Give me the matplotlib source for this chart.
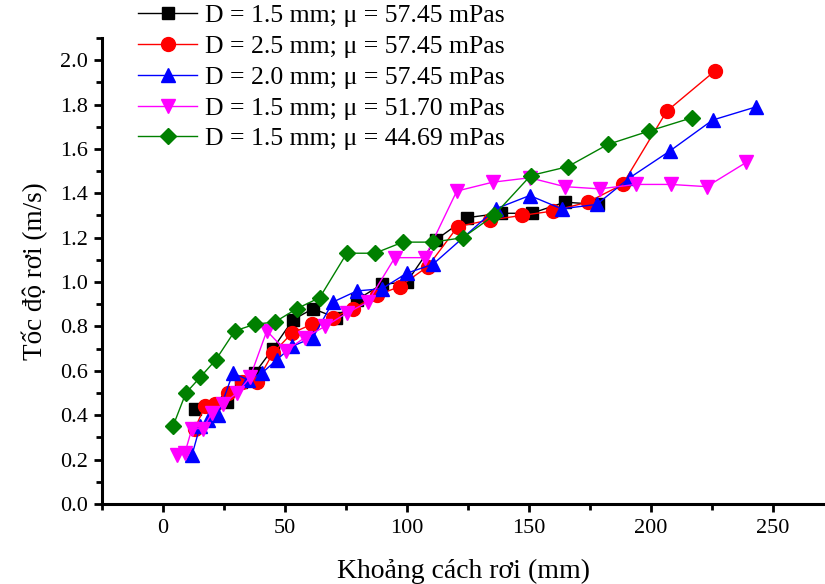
import numpy as np
import matplotlib
matplotlib.use("Agg")
import matplotlib.pyplot as plt
from matplotlib.ticker import MultipleLocator

plt.rcParams['font.family'] = ['Liberation Serif', 'DejaVu Serif']
plt.rcParams['mathtext.fontset'] = 'stix'

# D = 1.5 mm; mu = 57.45 mPas
x_black = [13.1, 26.2, 32.0, 37.7, 45.1, 53.3, 61.5, 70.9, 79.5, 89.8, 100.0,
           111.9, 124.6, 138.5, 151.2, 164.8, 178.3]
y_black = [0.43, 0.46, 0.55, 0.59, 0.70, 0.83, 0.88, 0.84, 0.92, 0.99, 1.00,
           1.19, 1.29, 1.31, 1.31, 1.36, 1.35]

# D = 2.5 mm; mu = 57.45 mPas
x_red = [13.1, 17.2, 21.3, 26.6, 32.4, 38.5, 45.1, 52.9, 61.1, 69.7, 77.9,
         87.7, 97.1, 108.6, 120.9, 134.0, 147.1, 159.8, 174.2, 188.5, 206.6, 226.2]
y_red = [0.34, 0.44, 0.45, 0.50, 0.55, 0.55, 0.68, 0.77, 0.81, 0.84, 0.88,
         0.94, 0.98, 1.07, 1.25, 1.28, 1.30, 1.32, 1.36, 1.44, 1.77, 1.95]

# D = 2.0 mm; mu = 57.45 mPas
x_blue = [11.9, 15.2, 18.4, 22.5, 28.7, 34.8, 40.6, 46.7, 52.9, 61.5, 69.7,
          79.5, 89.8, 100.0, 110.7, 136.5, 150.4, 163.5, 177.9, 191.4, 207.8,
          225.4, 243.4]
y_blue = [0.22, 0.35, 0.38, 0.40, 0.59, 0.56, 0.59, 0.65, 0.71, 0.75, 0.91,
          0.96, 0.97, 1.04, 1.08, 1.33, 1.39, 1.33, 1.35, 1.47, 1.59,
          1.73, 1.79]

# D = 1.5 mm; mu = 51.70 mPas
x_mag = [5.7, 9.0, 11.9, 16.4, 20.1, 24.6, 30.3, 35.7, 42.6, 50.4, 58.2,
         66.4, 75.4, 84.0, 95.1, 107.4, 120.5, 135.2, 150.4, 164.8, 179.1,
         193.9, 208.2, 223.0, 239.3]
y_mag = [0.22, 0.23, 0.34, 0.34, 0.41, 0.45, 0.50, 0.57, 0.78, 0.69, 0.75,
         0.80, 0.86, 0.91, 1.11, 1.11, 1.41, 1.45, 1.47, 1.43, 1.42,
         1.44, 1.44, 1.43, 1.54]

# D = 1.5 mm; mu = 44.69 mPas
x_green = [4.1, 9.4, 15.2, 21.7, 29.5, 37.7, 45.9, 54.9, 64.3, 75.4, 86.9,
           98.4, 110.7, 123.0, 135.7, 150.8, 166.0, 182.4, 199.2, 216.8]
y_green = [0.35, 0.50, 0.57, 0.65, 0.78, 0.81, 0.82, 0.88, 0.93, 1.13, 1.13,
           1.18, 1.18, 1.20, 1.30, 1.48, 1.52, 1.62, 1.68, 1.74]

labels = ['D = 1.5 mm; μ = 57.45 mPas',
          'D = 2.5 mm; μ = 57.45 mPas',
          'D = 2.0 mm; μ = 57.45 mPas',
          'D = 1.5 mm; μ = 51.70 mPas',
          'D = 1.5 mm; μ = 44.69 mPas']

fig = plt.figure(figsize=(8.25, 5.84), dpi=100)
ax = fig.add_axes([0.1236, 0.137, 0.8764, 0.798])

ax.plot(x_black, y_black, color='black', marker='s', ms=9, lw=1, label=labels[0])
ax.plot(x_red, y_red, color='red', marker='o', ms=10, lw=1, label=labels[1])
ax.plot(x_blue, y_blue, color='blue', marker='^', ms=10.5, lw=1, label=labels[2])
ax.plot(x_mag, y_mag, color='magenta', marker='v', ms=10.5, lw=1, label=labels[3])
ax.plot(x_green, y_green, color='green', marker='D', ms=8, lw=1, label=labels[4])

ax.set_xlim(-25, 271.5)
ax.set_ylim(0, 2.1)
ax.xaxis.set_major_locator(MultipleLocator(50))
ax.xaxis.set_minor_locator(MultipleLocator(25))
ax.yaxis.set_major_locator(MultipleLocator(0.2))
ax.yaxis.set_minor_locator(MultipleLocator(0.1))
ax.yaxis.set_major_formatter(plt.FormatStrFormatter('%.1f'))

ax.spines['top'].set_visible(False)
ax.spines['right'].set_visible(False)
ax.spines['left'].set_linewidth(2.2)
ax.spines['bottom'].set_linewidth(2.2)
ax.tick_params(which='major', direction='out', length=6, width=2, labelsize=16)
ax.tick_params(which='minor', direction='out', length=4, width=2)
ax.tick_params(axis='x', pad=5)
ax.tick_params(axis='y', pad=4)

ax.set_xlabel('Khoảng cách rơi (mm)', fontsize=20, labelpad=15)
ax.set_ylabel('Tốc độ rơi (m/s)', fontsize=19.5, labelpad=9)

ax.legend(loc='upper left', bbox_to_anchor=(0.155, 1.01), bbox_transform=fig.transFigure,
          frameon=False, fontsize=18.5, handlelength=2.3, handletextpad=0.3,
          labelspacing=0.3, borderaxespad=0)

fig.savefig('out.png', dpi=100)
